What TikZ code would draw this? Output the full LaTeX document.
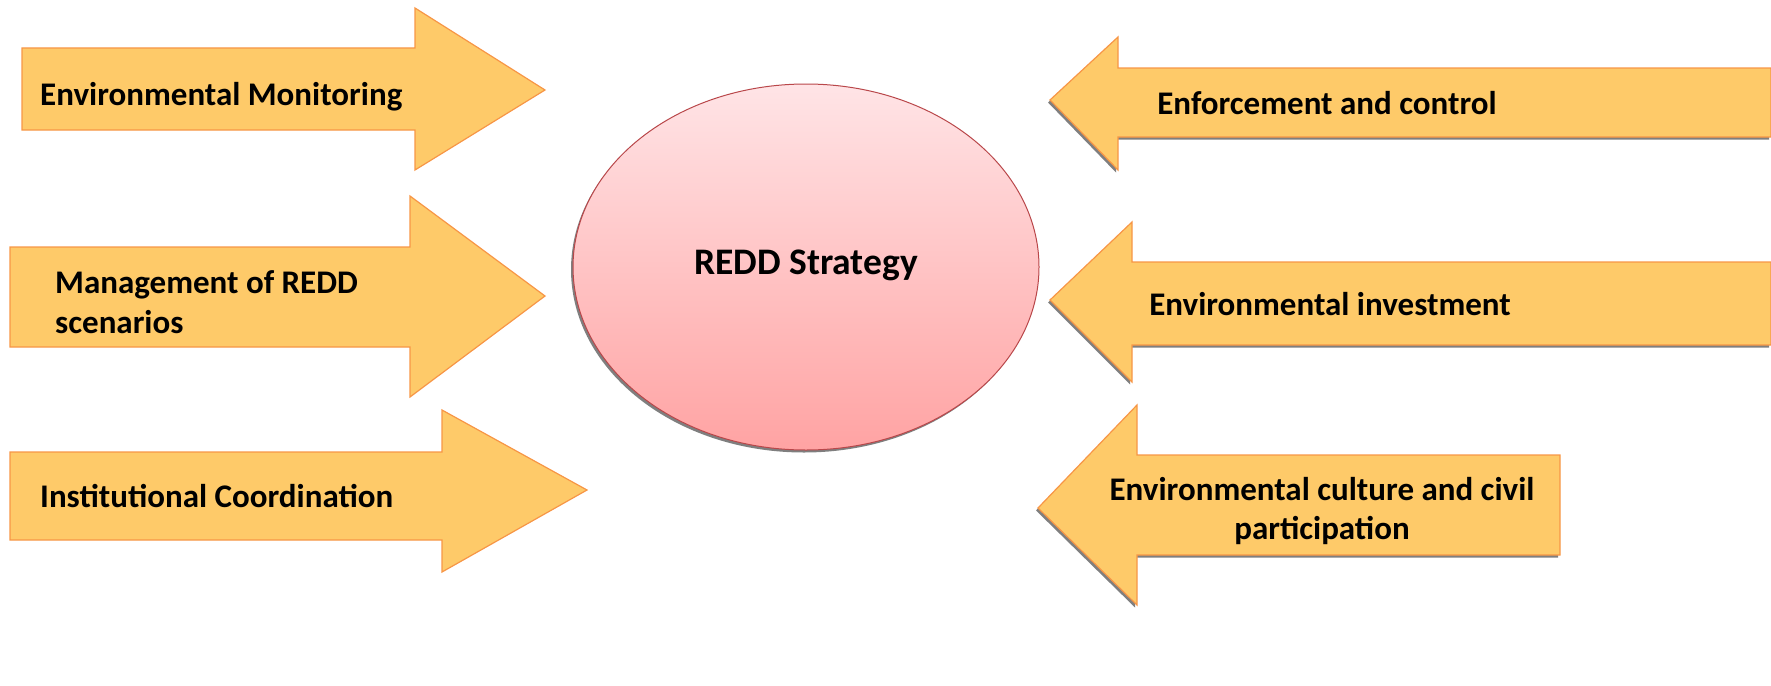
\documentclass[tikz,border=0pt]{standalone}
\usepackage{fontspec}
\setmainfont{Carlito}
\definecolor{arrfill}{HTML}{FECA69}
\definecolor{arrline}{HTML}{F79646}
\definecolor{elline}{HTML}{B9474A}
\definecolor{eltop}{HTML}{FFE4E6}
\definecolor{elbot}{HTML}{FFA3A3}
\definecolor{shad}{HTML}{7F7F7F}
\tikzset{
  arrshape/.style={fill=arrfill, draw=arrline, line width=1.2pt, line join=miter},
  shadowshape/.style={fill=shad},
  lbl/.style={font=\bfseries\fontsize{33}{39.5}\selectfont, inner sep=0pt, text=black},
  biglbl/.style={font=\bfseries\fontsize{37.5}{45}\selectfont, inner sep=0pt, text=black},
}
% right-pointing arrow: body left x0, head base x1, tip x2; body top/bottom; head top/bottom; tip y
\newcommand\myRarrow[8]{(#1,#4) -- (#2,#4) -- (#2,#6) -- (#3,#8) -- (#2,#7) -- (#2,#5) -- (#1,#5) -- cycle}
\begin{document}
\begin{tikzpicture}[x=1pt,y=-1pt]
\useasboundingbox (0,0) rectangle (1771,685);
% left arrows
\draw[arrshape] \myRarrow{22}{415}{545}{48}{130}{8}{170}{90};
\draw[arrshape] \myRarrow{10}{410}{545}{247}{347}{196}{397}{296};
\draw[arrshape] \myRarrow{10}{442}{587}{452}{540}{410}{572}{490};
\node[lbl, anchor=west] (mon) at (40,97) {Environmental Monitoring};
\node[lbl, anchor=west, align=left] (man) at (55,302) {Management of REDD\\scenarios};
\node[lbl, anchor=west] (ins) at (40,496) {Institutional Coordination};
% centre ellipse
\fill[shad] (804,269.5) ellipse [x radius=233, y radius=183];
\draw[elline, line width=1pt, top color=eltop, bottom color=elbot] (806,267) ellipse [x radius=233, y radius=183];
\node[biglbl] (redd) at (806,265) {REDD Strategy};
% right arrows (pointing left), shadow first
\fill[shadowshape, shift={(-2,2.5)}] \myRarrow{1771}{1118}{1050}{68}{137}{37}{170}{100};
\draw[arrshape] \myRarrow{1771}{1118}{1050}{68}{137}{37}{170}{100};
\fill[shadowshape, shift={(-2,2.5)}] \myRarrow{1771}{1132}{1050}{262}{345}{222}{382}{300};
\draw[arrshape] \myRarrow{1771}{1132}{1050}{262}{345}{222}{382}{300};
\fill[shadowshape, shift={(-2,2.5)}] \myRarrow{1560}{1137}{1038}{455}{555}{405}{605}{508};
\draw[arrshape] \myRarrow{1560}{1137}{1038}{455}{555}{405}{605}{508};
\node[lbl] (enf) at (1327,103) {Enforcement and control};
\node[lbl] (inv) at (1330,304) {Environmental investment};
\node[lbl, align=center] (cul) at (1322,511) {Environmental culture and civil\\participation};
\end{tikzpicture}
\end{document}
